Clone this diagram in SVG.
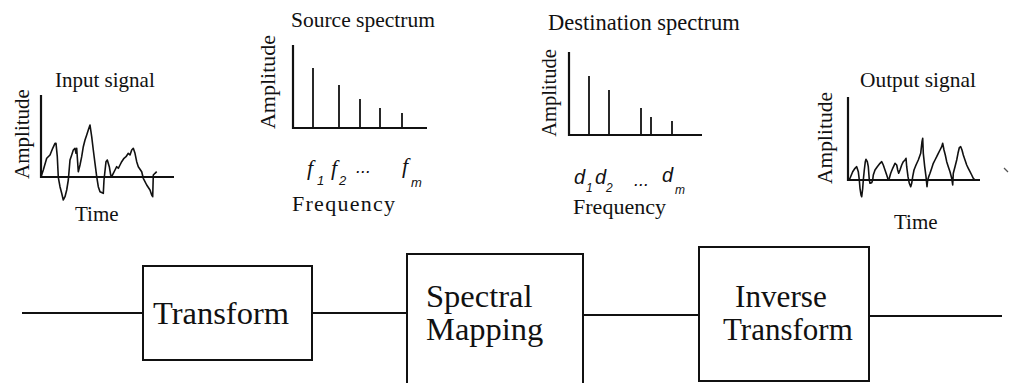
<svg xmlns="http://www.w3.org/2000/svg" width="1011" height="383" viewBox="0 0 1011 383">
<style>
  .t { font-family: "Liberation Serif", "Times New Roman", serif; fill: #111; }
  .lab { font-family: "Liberation Sans", Arial, sans-serif; font-style: italic; fill: #111; }
  .labf { font-family: "Liberation Serif", "Times New Roman", serif; font-style: italic; fill: #111; }
  .axis { stroke: #111; stroke-width: 2.2; fill: none; }
  .bar { stroke: #111; stroke-width: 1.8; }
  .wave { stroke: #111; stroke-width: 1.6; fill: none; stroke-linejoin: round; }
  .box { stroke: #111; stroke-width: 2; fill: #fff; }
  .conn { stroke: #111; stroke-width: 1.8; fill: none; }
</style>
<rect width="1011" height="383" fill="#fff"/>

<g id="connectors">
  <line class="conn" x1="22" y1="313" x2="143" y2="313"/>
  <line class="conn" x1="312" y1="313" x2="407" y2="313"/>
  <line class="conn" x1="583" y1="315" x2="699" y2="315"/>
  <line class="conn" x1="869" y1="316" x2="1002" y2="316"/>
</g>

<g id="input-signal">
  <text class="t" x="55" y="87" font-size="21">Input signal</text>
  <text class="t" font-size="21" text-anchor="middle" transform="translate(29,134) rotate(-90)">Amplitude</text>
  <line class="axis" x1="41" y1="95" x2="41" y2="178"/>
  <line class="axis" x1="41" y1="177" x2="174" y2="177"/>
  <polyline class="wave" points="41,177 43.3,170 46.7,158.3 50,155 52.7,148.3 55,143.3 56,143.3 57.3,156.7 58.3,177.3 60,186.7 61.7,193.3 63.3,200 65,196.7 66.7,190 68.3,180 70,160 71.7,155 73.3,150 75,148.3 76,153.3 76.7,148.3 78.3,171.7 80,165 81.7,156.7 83.3,146.7 85,140 86.7,135 88.3,130 90,125 91.7,136.7 93.3,150 95,163.3 96.7,176.7 98.3,186.7 100,191.7 103.3,193.3 104,180 106,161.7 107.3,160 109.3,166.7 110.7,175 111.7,176.7 113.3,173.3 115,170 116.7,166.7 118.3,168.3 120,165 121.7,161.7 124,158.3 126,156.7 128.3,153.3 130,155 131.7,150 133.3,148.3 135,153.3 136.7,161.7 138.3,166.7 141.7,171.7 143.3,178.3 146.7,185 150,190 151.7,195 152.7,196.7 153.3,175 155,173.3 156.7,171.7"/>
  <text class="t" x="75" y="221" font-size="21">Time</text>
</g>

<g id="source-spectrum">
  <text class="t" x="291" y="27" font-size="21.5">Source spectrum</text>
  <text class="t" font-size="22" text-anchor="middle" transform="translate(275,82) rotate(-90)">Amplitude</text>
  <line class="axis" x1="293" y1="45" x2="293" y2="129"/>
  <line class="axis" x1="292" y1="128" x2="427" y2="128"/>
  <line class="bar" x1="313" y1="68" x2="313" y2="128"/>
  <line class="bar" x1="339" y1="85" x2="339" y2="128"/>
  <line class="bar" x1="360" y1="99" x2="360" y2="128"/>
  <line class="bar" x1="380" y1="108" x2="380" y2="128"/>
  <line class="bar" x1="402" y1="113" x2="402" y2="128"/>
  <text class="labf" x="307" y="175" font-size="22">f</text>
  <text class="lab" x="317" y="185" font-size="13">1</text>
  <text class="labf" x="331" y="175" font-size="22">f</text>
  <text class="lab" x="339" y="185" font-size="13">2</text>
  <text class="lab" x="356" y="173" font-size="18">...</text>
  <text class="labf" x="402" y="173" font-size="22">f</text>
  <text class="lab" x="411" y="187" font-size="13">m</text>
  <text class="t" x="292" y="211" font-size="22" textLength="103">Frequency</text>
</g>

<g id="destination-spectrum">
  <text class="t" x="548" y="30" font-size="22.5">Destination spectrum</text>
  <text class="t" font-size="20.5" text-anchor="middle" transform="translate(556,93) rotate(-90)">Amplitude</text>
  <line class="axis" x1="569" y1="52" x2="569" y2="136"/>
  <line class="axis" x1="568" y1="135" x2="702" y2="135"/>
  <line class="bar" x1="589" y1="76" x2="589" y2="135"/>
  <line class="bar" x1="609" y1="90" x2="609" y2="135"/>
  <line class="bar" x1="641" y1="108" x2="641" y2="135"/>
  <line class="bar" x1="651" y1="117" x2="651" y2="135"/>
  <line class="bar" x1="672" y1="121" x2="672" y2="135"/>
  <text class="lab" x="574" y="184" font-size="20">d</text>
  <text class="lab" x="586" y="192" font-size="12">1</text>
  <text class="lab" x="595" y="184" font-size="20">d</text>
  <text class="lab" x="606" y="192" font-size="12">2</text>
  <text class="lab" x="634" y="186" font-size="18">...</text>
  <text class="lab" x="662" y="182" font-size="20">d</text>
  <text class="lab" x="675" y="194" font-size="12">m</text>
  <text class="t" x="573" y="214" font-size="22" textLength="93">Frequency</text>
</g>

<g id="output-signal">
  <text class="t" x="860" y="87" font-size="21.4">Output signal</text>
  <text class="t" font-size="21.5" text-anchor="middle" transform="translate(832,138) rotate(-90)">Amplitude</text>
  <line class="axis" x1="848" y1="97" x2="848" y2="181"/>
  <line class="axis" x1="848" y1="180" x2="980" y2="180"/>
  <polyline class="wave" points="848.3,180 850,178.3 852.7,171.7 855,168.3 856.7,166.7 858.3,171.7 859.3,180 860,188.3 861,195 861.7,196.7 862.7,188.3 863.3,180 864.3,170 865.3,161.7 866,159.3 867.3,161.7 868.3,166.7 869.3,180 870,183.3 871.7,182.7 872.7,180 873.3,175 875,170 877.3,166.7 880,163.3 881.7,161.7 883.3,165 885,170 886.7,175 888.3,180 889.3,178.3 890.7,173.3 892.7,168.3 895,163.3 896.7,165 897.7,170 898.7,173.3 900,170 901.7,165 903.3,161.7 905,160 906,158.3 906.7,166.7 908,176.7 909.3,183.3 910.7,186.7 911.7,183.3 912.7,176.7 914,170 916,165 918.3,160 920.7,153.3 922,141.7 922.7,138.3 923.3,153.3 924.7,166.7 926,176.7 927,186.7 927.7,180 928.7,176.7 930,173.3 931.7,168.3 933.3,163.3 935,160 936.7,156.7 938.3,153.3 940,150 941.7,146.7 942.7,143.3 944,150 945.3,155 946.7,161.7 948.3,166.7 950,171.7 951.7,178.3 952.7,185 953.3,173.3 955,166.7 956.7,160 958,153.3 959.3,147.7 960.7,146.7 962,150 963.3,155 965,160 966.7,165 968.3,168.3 970,171.7 971.7,175 973.3,178.3 975,180"/>
  <text class="t" x="894" y="229" font-size="21">Time</text>
  <line stroke="#555" stroke-width="1.2" x1="1004" y1="168" x2="1008" y2="172"/>
</g>

<g id="transform">
  <rect class="box" x="143" y="266" width="169" height="94"/>
  <text class="t" x="153" y="324" font-size="32.5">Transform</text>
</g>

<g id="spectral-mapping">
  <rect class="box" x="407" y="254" width="176" height="140"/>
  <text class="t" x="426" y="307" font-size="32.5">Spectral</text>
  <text class="t" x="426" y="340" font-size="32.5">Mapping</text>
</g>

<g id="inverse-transform">
  <rect class="box" x="699" y="247" width="170" height="134"/>
  <text class="t" x="735" y="307" font-size="31.2">Inverse</text>
  <text class="t" x="723" y="340" font-size="31">Transform</text>
</g>
</svg>
